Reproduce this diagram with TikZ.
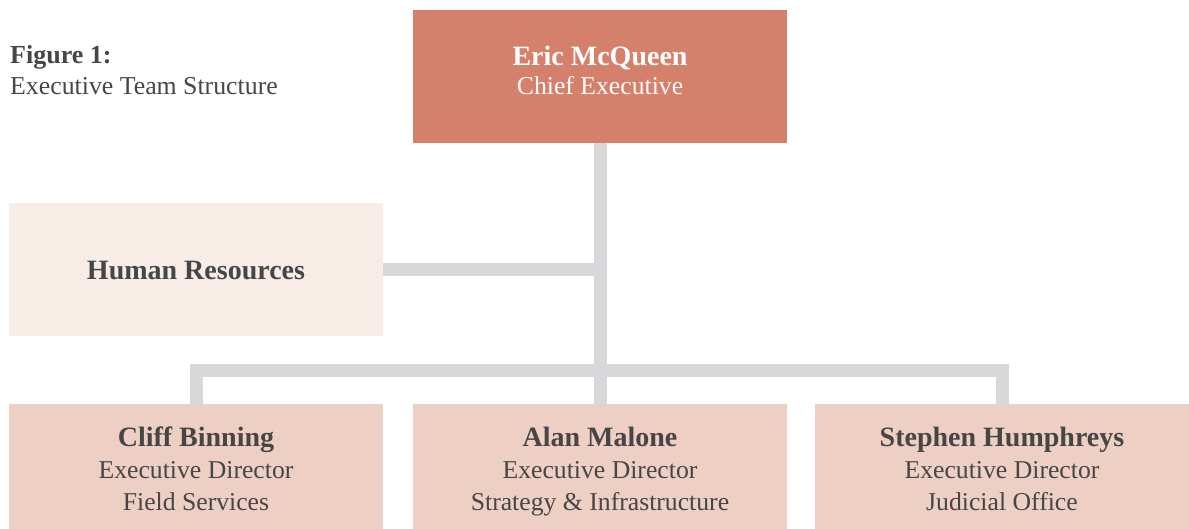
\documentclass[tikz,border=0pt]{standalone}
\usepackage{fontspec}
\setmainfont{Liberation Serif}
\definecolor{ceofill}{HTML}{D4806A}
\definecolor{staff}{HTML}{F8ECE7}
\definecolor{director}{HTML}{EECFC4}
\definecolor{linkgray}{HTML}{D7D8DA}
\definecolor{ink}{HTML}{464646}
\newcommand{\rolename}[1]{{\fontsize{28}{32}\selectfont\bfseries #1}}
\begin{document}
\begin{tikzpicture}[x=1pt,y=-1pt,
  box/.style={rectangle, inner sep=0pt, outer sep=0pt, draw=none,
    minimum width=374, anchor=north west},
  label text/.style={anchor=base, inner sep=0pt, text=ink,
    font=\fontsize{25.7}{32}\selectfont},
  conn/.style={draw=linkgray, line width=13, line join=miter}]
\useasboundingbox (0,0) rectangle (1189,529);

% boxes
\node[box, fill=ceofill,  minimum height=132.7] (ceo) at (413,10) {};
\node[box, fill=staff,    minimum height=132.7] (hr)  at (9,203) {};
\node[box, fill=director, minimum height=125]   (dl)  at (9,404) {};
\node[box, fill=director, minimum height=125]   (dm)  at (413,404) {};
\node[box, fill=director, minimum height=125]   (dr)  at (815,404) {};

% connectors
\coordinate (bus) at (600,370.7);
\draw[conn] (ceo.south) -- (dm.north);
\draw[conn] (hr.east) -- (hr.east -| ceo.south);
\draw[conn] (dl.north) -- (dl.north |- bus) -- (dr.north |- bus) -- (dr.north);

% caption
\node[anchor=base west, inner sep=0pt, text=ink,
      font=\fontsize{25.8}{31.7}\selectfont] (caption) at (10,63.3)
  {\begin{tabular}[t]{@{}l@{}}{\fontsize{26}{31.7}\selectfont\bfseries Figure 1:}\\Executive Team Structure\end{tabular}};

% box texts
\node[label text, text=white, font=\fontsize{25.7}{29}\selectfont] (ceotext) at (600,66)
  {\begin{tabular}[t]{@{}c@{}}\rolename{Eric McQueen}\\Chief Executive\end{tabular}};
\node[label text] (hrtext) at (196,279.3) {\rolename{Human Resources}};
\node[label text] (dltext) at (196,446.7)
  {\begin{tabular}[t]{@{}c@{}}\rolename{Cliff Binning}\\Executive Director\\Field Services\end{tabular}};
\node[label text] (dmtext) at (600,446.7)
  {\begin{tabular}[t]{@{}c@{}}\rolename{Alan Malone}\\Executive Director\\Strategy \& Infrastructure\end{tabular}};
\node[label text] (drtext) at (1002,446.7)
  {\begin{tabular}[t]{@{}c@{}}\rolename{Stephen Humphreys}\\Executive Director\\Judicial Office\end{tabular}};
\end{tikzpicture}
\end{document}
